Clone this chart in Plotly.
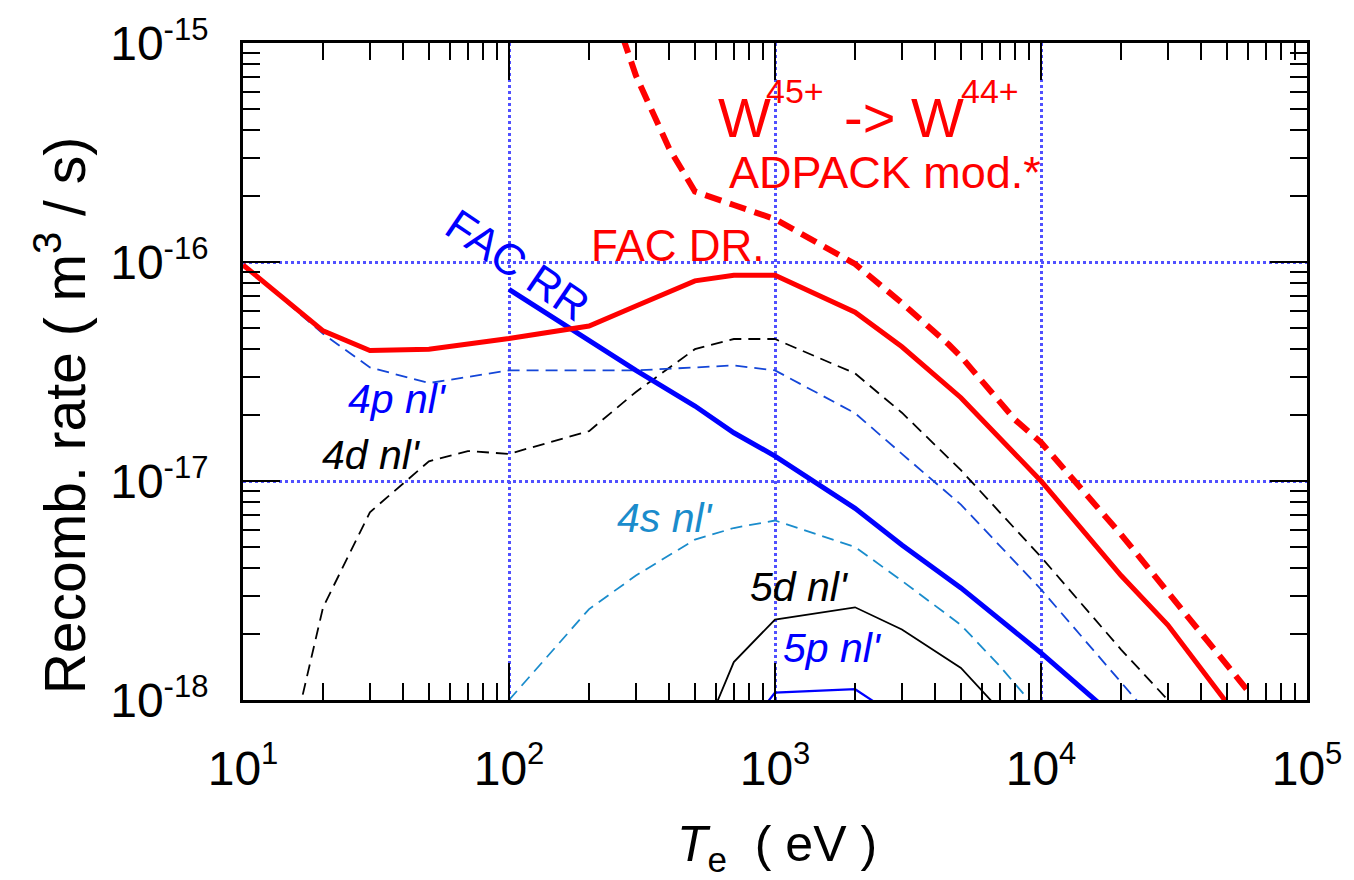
import plotly.graph_objects as go

# ---- data: recombination rates (m^3/s) vs electron temperature (eV) ----
te_dr = [10, 20, 30, 50, 100, 200, 300, 500, 700, 1000, 2000, 3000, 5000, 10000, 20000, 30000, 50000]
fac_dr = [9.7e-17, 4.85e-17, 3.94e-17, 4.0e-17, 4.47e-17, 5.1e-17, 6.3e-17, 8.2e-17, 8.7e-17, 8.7e-17,
          5.9e-17, 4.1e-17, 2.4e-17, 1.0e-17, 3.7e-18, 2.2e-18, 0.97e-18]

te_adp = [200, 300, 400, 500, 700, 1000, 2000, 3000, 4500, 5000, 8000, 10000, 20000, 30000, 60000]
adpack = [3.0e-15, 7.1e-16, 3.3e-16, 2.1e-16, 1.82e-16, 1.57e-16, 9.8e-17, 6.5e-17, 4.2e-17, 3.7e-17,
          1.9e-17, 1.5e-17, 5.7e-18, 3.1e-18, 1.1e-18]

te_rr = [100, 200, 300, 500, 700, 1000, 2000, 3000, 5000, 10000, 20000]
fac_rr = [7.5e-17, 4.4e-17, 3.2e-17, 2.2e-17, 1.66e-17, 1.3e-17, 7.5e-18, 5.1e-18, 3.25e-18, 1.64e-18, 7.9e-19]

te_4p = [10, 20, 30, 50, 100, 200, 300, 500, 700, 1000, 2000, 3000, 5000, 10000, 20000, 30000]
dr_4p = [0.97e-16, 4.7e-17, 3.3e-17, 2.8e-17, 3.2e-17, 3.2e-17, 3.2e-17, 3.3e-17, 3.37e-17, 3.2e-17,
         2.04e-17, 1.33e-17, 7.8e-18, 3.2e-18, 1.2e-18, 6.8e-19]

te_4d = [15, 20, 30, 50, 70, 100, 200, 300, 500, 700, 1000, 2000, 3000, 5000, 10000, 20000, 30000]
dr_4d = [5.9e-19, 2.65e-18, 7.2e-18, 1.23e-17, 1.37e-17, 1.33e-17, 1.69e-17, 2.55e-17, 4.0e-17, 4.45e-17,
         4.45e-17, 3.1e-17, 2.05e-17, 1.12e-17, 4.5e-18, 1.7e-18, 1.0e-18]

te_4s = [100, 200, 300, 500, 700, 1000, 2000, 3000, 5000, 7000, 10000]
dr_4s = [1.0e-18, 2.6e-18, 3.7e-18, 5.4e-18, 6.1e-18, 6.6e-18, 5.0e-18, 3.5e-18, 2.2e-18, 1.43e-18, 0.86e-18]

te_5d = [500, 700, 1000, 2000, 3000, 5000, 7000]
dr_5d = [5.6e-19, 1.49e-18, 2.33e-18, 2.65e-18, 2.1e-18, 1.4e-18, 0.9e-18]

te_5p = [900, 1000, 2000, 3000]
dr_5p = [9.2e-19, 1.08e-18, 1.12e-18, 8.1e-19]

x_ticks = [10, 100, 1000, 10000, 100000]
x_exp = [1, 2, 3, 4, 5]
y_ticks = [1e-18, 1e-17, 1e-16, 1e-15]
y_exp = [-18, -17, -16, -15]
x_minor = [m * 10 ** d for d in range(1, 5) for m in range(2, 10)]
y_minor = [m * 10.0 ** d for d in range(-18, -15) for m in range(2, 10)]


def pow10(e):
    return "10<sup><span style='font-size:31px'>%d</span></sup>" % e


FONT = "Liberation Sans, Arial, sans-serif"
RED = "#ff0000"
BLUE = "#0000ff"
MIDBLUE = "#1446d8"
LIGHTBLUE = "#1a8ccc"

fig = go.Figure()


def add_line(x, y, color, width, dash="solid"):
    fig.add_trace(go.Scatter(x=x, y=y, mode="lines", showlegend=False,
                             line=dict(color=color, width=width, dash=dash)))


add_line(te_5p, dr_5p, BLUE, 2.2)
add_line(te_5d, dr_5d, "black", 1.8)
add_line(te_4s, dr_4s, LIGHTBLUE, 1.8, "12px,7px")
add_line(te_4d, dr_4d, "black", 1.8, "12px,7px")
add_line(te_4p, dr_4p, MIDBLUE, 1.8, "12px,7px")
add_line(te_rr, fac_rr, BLUE, 5)
add_line(te_adp, adpack, RED, 6, "17px,9px")
add_line(te_dr, fac_dr, RED, 5)

# plot area in pixels: x 243..1313, y 40..700
L, R, T, B = 243, 1313, 40, 700


def px(xp, yp):
    return (xp - L) / (R - L), 1 - (yp - T) / (B - T)


def label(text, xp, yp, size, color, ang=0, xanchor="center"):
    xx, yy = px(xp, yp)
    fig.add_annotation(text=text, x=xx, y=yy, xref="paper", yref="paper", showarrow=False,
                       xanchor=xanchor, yanchor="middle", textangle=ang,
                       font=dict(family=FONT, size=size, color=color))


# ion charge-state title
label("W", 719, 115, 56, RED, xanchor="left")
label("45+", 767, 88, 34, RED, xanchor="left")
label("-> W", 845, 115, 56, RED, xanchor="left")
label("44+", 963, 88, 34, RED, xanchor="left")

label("ADPACK mod.*", 889, 170, 45, RED)
label("FAC DR.", 680, 243, 44, RED)
label("FAC RR", 519, 263, 44, BLUE, 34)
label("<i>4p nl'</i>", 398, 398, 41, BLUE)
label("<i>4d nl'</i>", 372, 454, 41, "black")
label("<i>4s nl'</i>", 667, 517, 41, LIGHTBLUE)
label("<i>5d nl'</i>", 802, 586, 41, "black")
label("<i>5p nl'</i>", 835, 648, 41, BLUE)

# axis titles
label("Recomb. rate ( m<sup>3</sup> / s)", 60, 415, 57, "black", -90)
label("<i>T</i><sub>e</sub>  ( eV )", 780, 848, 50, "black")

axis_common = dict(
    type="log", ticks="inside", ticklen=37, tickwidth=2, tickcolor="black",
    showline=True, linewidth=3, linecolor="black", mirror="allticks",
    showgrid=True, gridcolor="#5050ff", griddash="dot", gridwidth=2.5, zeroline=False,
    tickfont=dict(family=FONT, size=48, color="black"),
)

fig.update_xaxes(range=[1, 5], tickmode="array", tickvals=x_ticks,
                 ticktext=[pow10(e) for e in x_exp], ticklabelstandoff=24,
                 minor=dict(ticks="inside", ticklen=17, tickwidth=2, tickcolor="black",
                            tickmode="array", tickvals=x_minor, showgrid=False),
                 **axis_common)
fig.update_yaxes(range=[-18, -15], tickmode="array", tickvals=y_ticks,
                 ticktext=[pow10(e) for e in y_exp], ticklabelstandoff=22,
                 minor=dict(ticks="inside", ticklen=17, tickwidth=2, tickcolor="black",
                            tickmode="array", tickvals=y_minor, showgrid=False),
                 **axis_common)

fig.update_layout(
    width=1354, height=880, autosize=False,
    margin=dict(l=L, r=1354 - R, t=T, b=880 - B, pad=0),
    paper_bgcolor="white", plot_bgcolor="white",
    font=dict(family=FONT, color="black"),
)

fig.write_html("out.html")
